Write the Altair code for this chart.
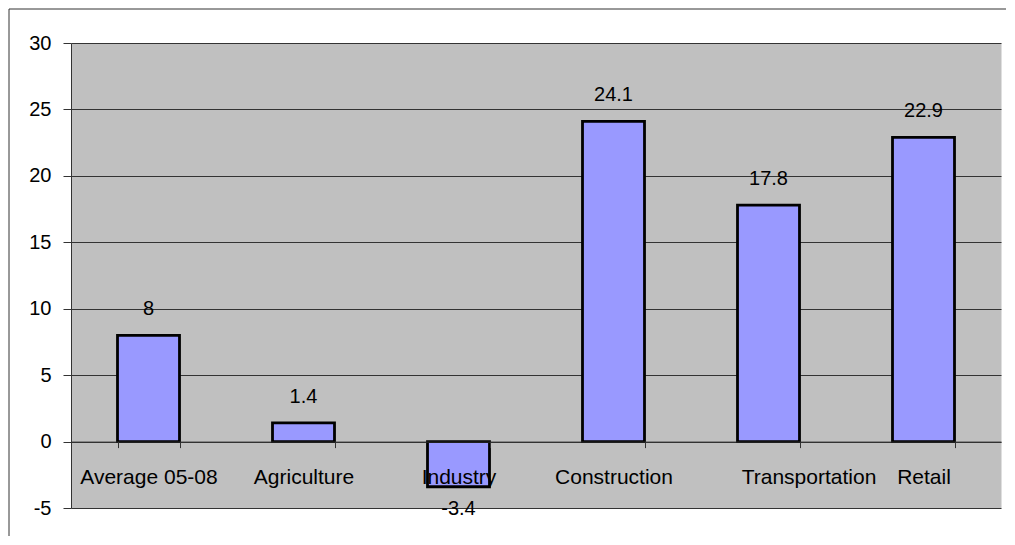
import altair as alt
import pandas as pd

categories = ["Average 05-08", "Agriculture", "Industry", "Construction", "Transportation", "Retail"]
values = [8, 1.4, -3.4, 24.1, 17.8, 22.9]
y_ticks = [-5, 0, 5, 10, 15, 20, 25, 30]

df = pd.DataFrame({"sector": categories, "growth": values})

FONT = "Liberation Sans"
LINE = "#333333"

x_enc = alt.X(
    "sector:N",
    sort=categories,
    scale=alt.Scale(paddingInner=0.6, paddingOuter=0.3),
    axis=alt.Axis(
        title=None, labelAngle=0, orient="bottom", offset=-66.4,
        tickBand="extent", tickSize=6, labelPadding=19,
        labelFontSize=21, labelFont=FONT, labelColor="black",
        labelBaseline="top", labelOverlap=False,
        domainColor=LINE, tickColor=LINE, zindex=1,
        labelOffset={"condition": {"test": "datum.value === 'Transportation'", "value": 40}, "value": 0},
    ),
)
y_enc = alt.Y(
    "growth:Q",
    scale=alt.Scale(domain=[-5, 30], nice=False, zero=False),
    axis=alt.Axis(
        title=None, values=y_ticks, tickSize=8, labelPadding=12,
        labelFontSize=20, labelFont=FONT, labelColor="black",
        labelExpr="replace(datum.label, '\u2212', '-')",
        grid=True, gridColor=LINE, gridWidth=1,
        domainColor=LINE, tickColor=LINE,
    ),
)

base = alt.Chart(df).transform_calculate(label="toString(datum.growth)")

bars = base.mark_bar(fill="#9999FF", stroke="black", strokeWidth=2.8).encode(x=x_enc, y=y_enc)

pos_text = base.transform_filter("datum.growth >= 0").mark_text(
    dy=-26, baseline="middle", fontSize=20, font=FONT, color="black"
).encode(x=alt.X("sector:N", sort=categories), y="growth:Q", text="label:N")

neg_text = base.transform_filter("datum.growth < 0").mark_text(
    dy=22, baseline="middle", fontSize=20, font=FONT, color="black"
).encode(x=alt.X("sector:N", sort=categories), y="growth:Q", text="label:N")

frame_src = alt.Data(values=[{}])
frame_top = alt.Chart(frame_src).mark_rule(color=LINE, strokeWidth=1).encode(
    x=alt.value(-62), x2=alt.value(940), y=alt.value(-34)
)
frame_left = alt.Chart(frame_src).mark_rule(color=LINE, strokeWidth=1).encode(
    x=alt.value(-62), y=alt.value(-34), y2=alt.value(500)
)

chart = alt.layer(bars, pos_text, neg_text, frame_top, frame_left).properties(
    width=930,
    height=465,
    autosize=alt.AutoSizeParams(type="none"),
    padding={"left": 63, "top": 35, "right": 5, "bottom": 28},
    background="white",
).configure_view(fill="#C0C0C0", stroke="transparent")

chart.save("out.html", embed_options={"renderer": "svg", "actions": False})
